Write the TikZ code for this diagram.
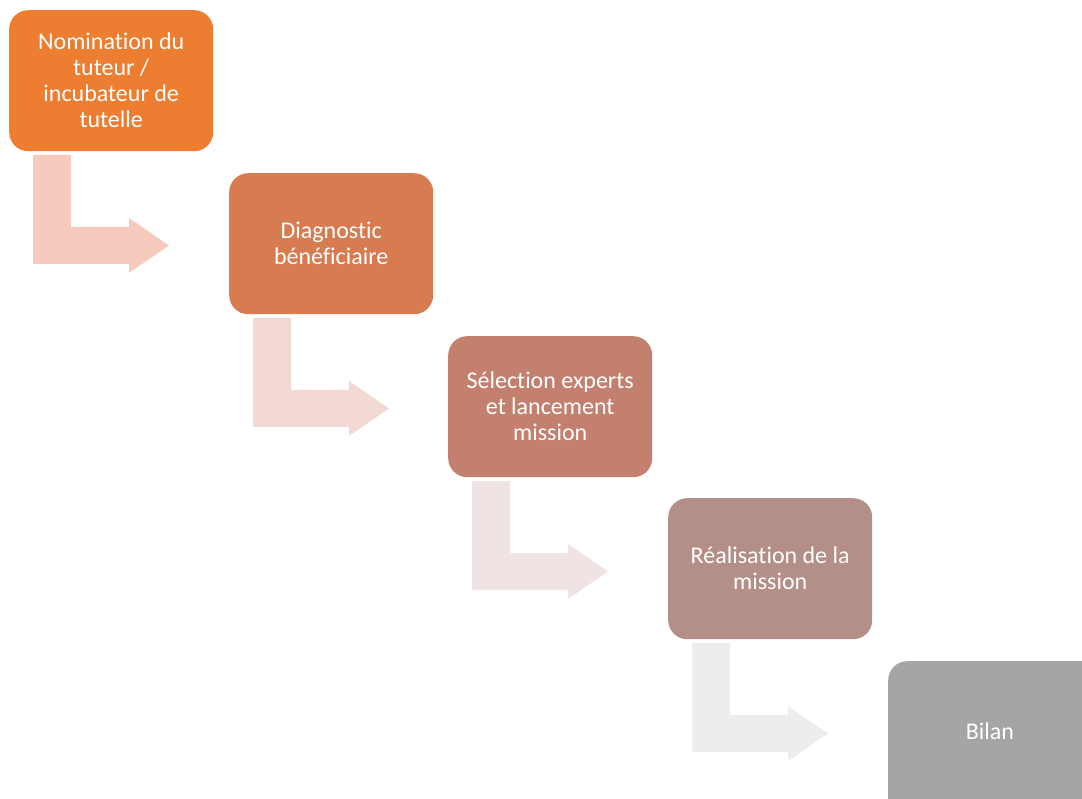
\documentclass[tikz,border=0pt]{standalone}
\usepackage{fontspec}
\setmainfont{Carlito}[Ligatures=NoCommon]
\usetikzlibrary{calc}
\definecolor{cA}{HTML}{ED7D31}
\definecolor{cB}{HTML}{D77B50}
\definecolor{cC}{HTML}{C4806F}
\definecolor{cD}{HTML}{B48F88}
\definecolor{cE}{HTML}{A5A5A5}
\definecolor{aA}{HTML}{F6CBBE}
\definecolor{aB}{HTML}{F2D9D3}
\definecolor{aC}{HTML}{EFE3E3}
\definecolor{aD}{HTML}{EDEDED}
\tikzset{
  stepbox/.style={draw=none, rounded corners=19pt, minimum width=204pt, minimum height=141pt,
    inner sep=0pt, text=white, align=center, anchor=north west,
    font=\fontsize{24pt}{26pt}\selectfont},
}
\newcommand{\bentarrow}[2]{%
  \fill[#2] ($(#1.north west)+(24,145)$) -- ($(#1.north west)+(62,145)$)
    -- ($(#1.north west)+(62,217)$) -- ($(#1.north west)+(120,217)$)
    -- ($(#1.north west)+(120,208)$) -- ($(#1.north west)+(160,235.5)$)
    -- ($(#1.north west)+(120,263)$) -- ($(#1.north west)+(120,254)$)
    -- ($(#1.north west)+(24,254)$) -- cycle;}
\begin{document}
\begin{tikzpicture}[x=1pt,y=-1pt]
\useasboundingbox (0,0) rectangle (1082,799);
\clip (0,0) rectangle (1082,799);
\node[stepbox, fill=cA] (b1) at (9,10) {Nomination du\\tuteur /\\incubateur de\\tutelle};
\node[stepbox, fill=cB] (b2) at (229,173) {Diagnostic\\bénéficiaire};
\node[stepbox, fill=cC] (b3) at (448,336) {Sélection experts\\et lancement\\mission};
\node[stepbox, fill=cD] (b4) at (668,498) {Réalisation de la\\mission};
\node[stepbox, fill=cE, minimum width=214pt, minimum height=160pt] (b5) at (888,661) {};
\node[text=white, font=\fontsize{24pt}{26pt}\selectfont] (t5) at (990,731) {Bilan};
\bentarrow{b1}{aA}
\bentarrow{b2}{aB}
\bentarrow{b3}{aC}
\bentarrow{b4}{aD}
\end{tikzpicture}
\end{document}
